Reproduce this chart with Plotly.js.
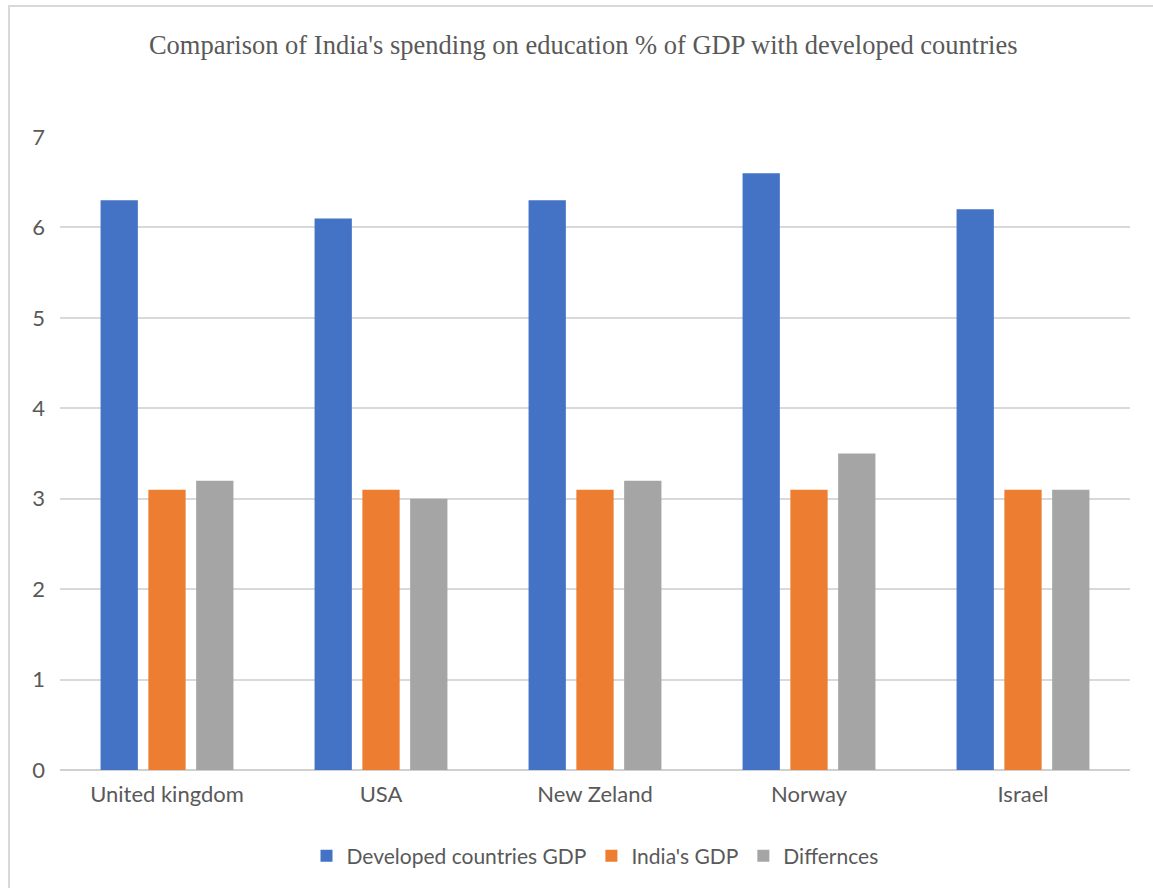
<!DOCTYPE html>
<html>
<head>
<meta charset="utf-8">
<script src="https://cdn.plot.ly/plotly-3.0.1.min.js"></script>
<style>
html,body{margin:0;padding:0;background:#fff;}
#chart{width:1153px;height:888px;}
#frame{position:absolute;left:8px;top:5px;width:1145px;height:883px;border-top:2px solid #d9d9d9;border-left:2px solid #d9d9d9;pointer-events:none;box-sizing:border-box;}
</style>
</head>
<body>
<div id="chart"></div>
<div id="frame"></div>
<script>
const categories = ["United kingdom", "USA", "New Zeland", "Norway", "Israel"];
const developedGDP = [6.3, 6.1, 6.3, 6.6, 6.2];
const indiaGDP = [3.1, 3.1, 3.1, 3.1, 3.1];
const differences = [3.2, 3.0, 3.2, 3.5, 3.1];
const seriesNames = ["Developed countries GDP", "India's GDP", "Differnces"];
const colors = ["#4472C4", "#ED7D31", "#A5A5A5"];
const yTicks = [0, 1, 2, 3, 4, 5, 6, 7];

const series = [developedGDP, indiaGDP, differences];
const data = series.map((vals, i) => ({
  type: 'bar',
  name: seriesNames[i],
  x: categories,
  y: vals,
  marker: {color: colors[i]},
  hoverinfo: 'x+y+name'
}));

const sans = 'Lato, Noto Sans, sans-serif';
const layout = {
  width: 1153,
  height: 888,
  paper_bgcolor: '#fff',
  plot_bgcolor: '#fff',
  margin: {l: 60, r: 23, t: 137, b: 117},
  title: {
    text: "Comparison of India's spending on education % of GDP with developed countries",
    font: {family: 'Liberation Serif, Times New Roman, serif', size: 26.5, color: '#595959'},
    x: 0.489, xanchor: 'center', y: 1 - 45/888, yanchor: 'middle', xref: 'paper'
  },
  barmode: 'group',
  bargap: 0.33,
  bargroupgap: 0.22,
  showlegend: true,
  legend: {
    orientation: 'h', x: 0.5, xanchor: 'center', y: -0.102, yanchor: 'top',
    font: {family: sans, size: 21, color: '#595959'},
    itemwidth: 30, traceorder: 'normal'
  },
  xaxis: {
    type: 'category',
    tickfont: {family: sans, size: 22, color: '#595959'},
    showgrid: false, zeroline: false, showline: false,
    ticks: '', ticklabelstandoff: 9
  },
  yaxis: {
    range: [0, 7],
    tickvals: yTicks,
    ticktext: yTicks.map(String),
    tickfont: {family: sans, size: 22, color: '#595959'},
    showgrid: true, gridcolor: '#d9d9d9', gridwidth: 1.5,
    zeroline: true, zerolinecolor: '#d0d0d0', zerolinewidth: 2,
    showline: false, ticks: '', ticklabelstandoff: 14
  }
};

Plotly.newPlot('chart', data, layout, {displayModeBar: false});
</script>
</body>
</html>
